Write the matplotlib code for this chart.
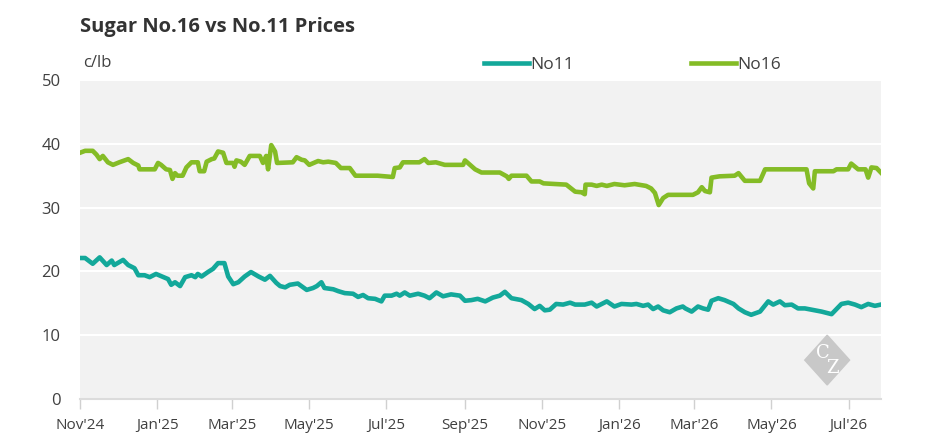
import matplotlib
matplotlib.use("Agg")
import matplotlib.pyplot as plt
from matplotlib.patches import Polygon
import pandas as pd

plt.rcParams['font.family'] = ['Open Sans', 'DejaVu Sans']

start = pd.Timestamp("2024-11-01")

# days since 1 Nov 2024 and price (c/lb)
no16_days = [0, 4, 10, 13, 15.5, 18, 22, 26, 31, 38, 42, 46, 47, 59, 61.6, 64, 68, 71, 73, 75, 77, 81,
             84, 88, 93, 94.5, 98, 100, 104, 106, 109, 113, 115.6, 121, 122, 123.5, 127, 130, 134, 142,
             144.5, 147, 148.5, 151, 154, 155.6, 168, 171, 175, 177.5, 181, 188, 192, 196, 202, 206, 213,
             217.5, 235, 247, 248.5, 252.5, 255, 268, 272, 275, 281, 288, 302.5, 304, 308, 312, 317,
             331.5, 337, 338.6, 340.7, 352.6, 356.5, 363, 366, 375, 384, 391, 396, 398.6, 399.2, 404,
             408, 412, 416, 422, 430, 438, 447, 451, 454, 457, 460.5, 464.4, 484, 488, 491, 493.5,
             497.4, 498.7, 505, 517, 520, 525, 537, 541, 573.7, 575.8, 579, 580.3, 595, 597.4, 606.6,
             609, 614.5, 620.3, 622.4, 625, 629, 632.4]
no16_vals = [38.6, 38.9, 38.9, 38.3, 37.6, 38.1, 37.1, 36.7, 37.1, 37.6, 37.0, 36.6, 36.0, 36.0, 37.0,
             36.7, 36.0, 35.9, 34.5, 35.4, 35.0, 35.0, 36.3, 37.1, 37.1, 35.7, 35.7, 37.2, 37.6, 37.7,
             38.8, 38.6, 37.0, 37.0, 36.4, 37.4, 37.2, 36.7, 38.1, 38.1, 37.0, 38.1, 36.0, 39.8, 38.8,
             37.0, 37.1, 37.9, 37.5, 37.4, 36.7, 37.3, 37.1, 37.2, 37.0, 36.2, 36.2, 35.0, 35.0, 34.8,
             36.2, 36.3, 37.1, 37.1, 37.6, 37.0, 37.1, 36.7, 36.7, 37.4, 36.7, 36.0, 35.5, 35.5, 34.9,
             34.5, 35.0, 35.0, 34.1, 34.1, 33.8, 33.7, 33.6, 32.5, 32.4, 32.1, 33.6, 33.6, 33.4, 33.6,
             33.4, 33.7, 33.5, 33.7, 33.4, 33.0, 32.3, 30.4, 31.5, 32.0, 32.0, 32.4, 33.2, 32.6, 32.4,
             34.7, 34.9, 35.0, 35.4, 34.2, 34.2, 36.0, 36.0, 33.8, 33.0, 35.7, 35.7, 36.0, 36.0, 36.9,
             36.0, 36.0, 34.7, 36.3, 36.2, 35.5]

no11_days = [0, 4, 10, 15.5, 21, 25, 27, 34, 38, 43, 46, 51, 55, 60, 66, 69.5, 72, 75, 79, 83, 88, 91,
             93, 96, 101, 105, 109, 114, 117, 121, 125, 130, 135, 141, 146, 150, 155, 158, 162, 165.6,
             172, 179, 184, 187, 190.6, 193, 200, 204, 209, 215.6, 219.6, 223.5, 227.5, 233, 238,
             240.6, 246, 250, 252.5, 256.4, 260.4, 267, 272, 276, 281.4, 286.7, 293, 300, 304, 309,
             314, 320, 326, 331.5, 335.5, 340.7, 348.6, 354, 359, 363, 367, 371, 376, 381.5, 387, 391,
             398.6, 404, 408, 416, 422, 427.6, 435.5, 439.4, 444.7, 448.6, 452.6, 456.5, 460.5, 465.7,
             471, 476, 478, 483, 488, 492, 496, 498.7, 504, 509, 516, 520, 525, 530, 537, 543.5, 547.4,
             552.7, 556.6, 562, 567, 572.4, 577.7, 585.6, 593.5, 601.3, 606.6, 612, 617, 622.4, 627.7,
             632.4]
no11_vals = [22.1, 22.1, 21.2, 22.2, 21.0, 21.7, 21.0, 21.8, 21.0, 20.5, 19.4, 19.4, 19.1, 19.6, 19.1,
             18.8, 17.9, 18.3, 17.7, 19.1, 19.4, 19.1, 19.6, 19.2, 19.9, 20.4, 21.3, 21.3, 19.2, 18.0,
             18.3, 19.2, 19.9, 19.2, 18.7, 19.3, 18.2, 17.7, 17.5, 17.9, 18.1, 17.1, 17.4, 17.7, 18.3,
             17.4, 17.2, 16.9, 16.6, 16.5, 16.0, 16.3, 15.8, 15.7, 15.3, 16.2, 16.2, 16.5, 16.2, 16.7,
             16.2, 16.5, 16.2, 15.8, 16.7, 16.1, 16.4, 16.2, 15.4, 15.5, 15.7, 15.3, 15.9, 16.2, 16.8,
             15.8, 15.5, 14.9, 14.1, 14.6, 13.9, 14.0, 14.9, 14.8, 15.1, 14.8, 14.8, 15.1, 14.5, 15.3,
             14.5, 14.9, 14.8, 14.9, 14.6, 14.8, 14.1, 14.5, 13.9, 13.6, 14.2, 14.5, 14.2, 13.7, 14.5,
             14.2, 14.0, 15.4, 15.8, 15.5, 14.9, 14.2, 13.6, 13.2, 13.7, 15.3, 14.8, 15.3, 14.7, 14.8,
             14.2, 14.2, 14.0, 13.7, 13.3, 14.9, 15.1, 14.8, 14.4, 14.9, 14.6, 14.8]

tick_labels = ["Nov'24", "Jan'25", "Mar'25", "May'25", "Jul'25", "Sep'25", "Nov'25",
               "Jan'26", "Mar'26", "May'26", "Jul'26"]
tick_dates = pd.date_range("2024-11-01", periods=len(tick_labels), freq="2MS")

no16_x = start + pd.to_timedelta(no16_days, unit="D")
no11_x = start + pd.to_timedelta(no11_days, unit="D")

c11 = '#13a89a'
c16 = '#84bc26'
txt = '#404040'

fig = plt.figure(figsize=(9.45, 4.43), dpi=100)
ax = fig.add_axes([0.0847, 0.0993, 0.8474, 0.7201])
ax.set_facecolor('#f2f2f2')

ax.plot(no11_x, no11_vals, color=c11, lw=3.3, label='No11', solid_joinstyle='round')
ax.plot(no16_x, no16_vals, color=c16, lw=3.3, label='No16', solid_joinstyle='round')

ax.set_ylim(0, 50)
ax.set_yticks([0, 10, 20, 30, 40, 50])
ax.set_xlim(start, no16_x[-1])
ax.set_xticks(tick_dates)
ax.set_xticklabels(tick_labels)
ax.grid(axis='y', color='white', lw=1.5)
ax.set_axisbelow(True)

for s in ['top', 'right', 'left']:
    ax.spines[s].set_visible(False)
ax.spines['bottom'].set_color('#dcdcdc')
ax.spines['bottom'].set_linewidth(1.5)
ax.tick_params(axis='x', colors='#d0d0d0', length=7, width=1, labelcolor=txt, labelsize=11, pad=7)
ax.tick_params(axis='y', length=0, labelcolor=txt, labelsize=12, pad=14)

# CZ watermark
ax.add_patch(Polygon([(0.905, 0.122), (0.933, 0.2), (0.961, 0.122), (0.933, 0.044)],
                     closed=True, transform=ax.transAxes, color='#c8c8c8', zorder=1))
ax.text(0.927, 0.145, 'C', transform=ax.transAxes, color='white', fontsize=13,
        family='DejaVu Serif', ha='center', va='center', zorder=2)
ax.text(0.940, 0.098, 'Z', transform=ax.transAxes, color='white', fontsize=13,
        family='DejaVu Serif', ha='center', va='center', zorder=2)

fig.text(0.0847, 0.94, 'Sugar No.16 vs No.11 Prices', fontsize=14.5, fontweight='bold',
         color='#333333', ha='left', va='center')
fig.text(0.088, 0.857, 'c/lb', fontsize=12, color=txt, ha='left', va='center')

fig.legend(loc='center left', bbox_to_anchor=(0.512, 0.853), ncol=2, frameon=False,
           handlelength=2.6, handletextpad=0.1, columnspacing=6.7, borderaxespad=0,
           borderpad=0, fontsize=12.5, labelcolor=txt)

fig.savefig('out.png', dpi=100)
